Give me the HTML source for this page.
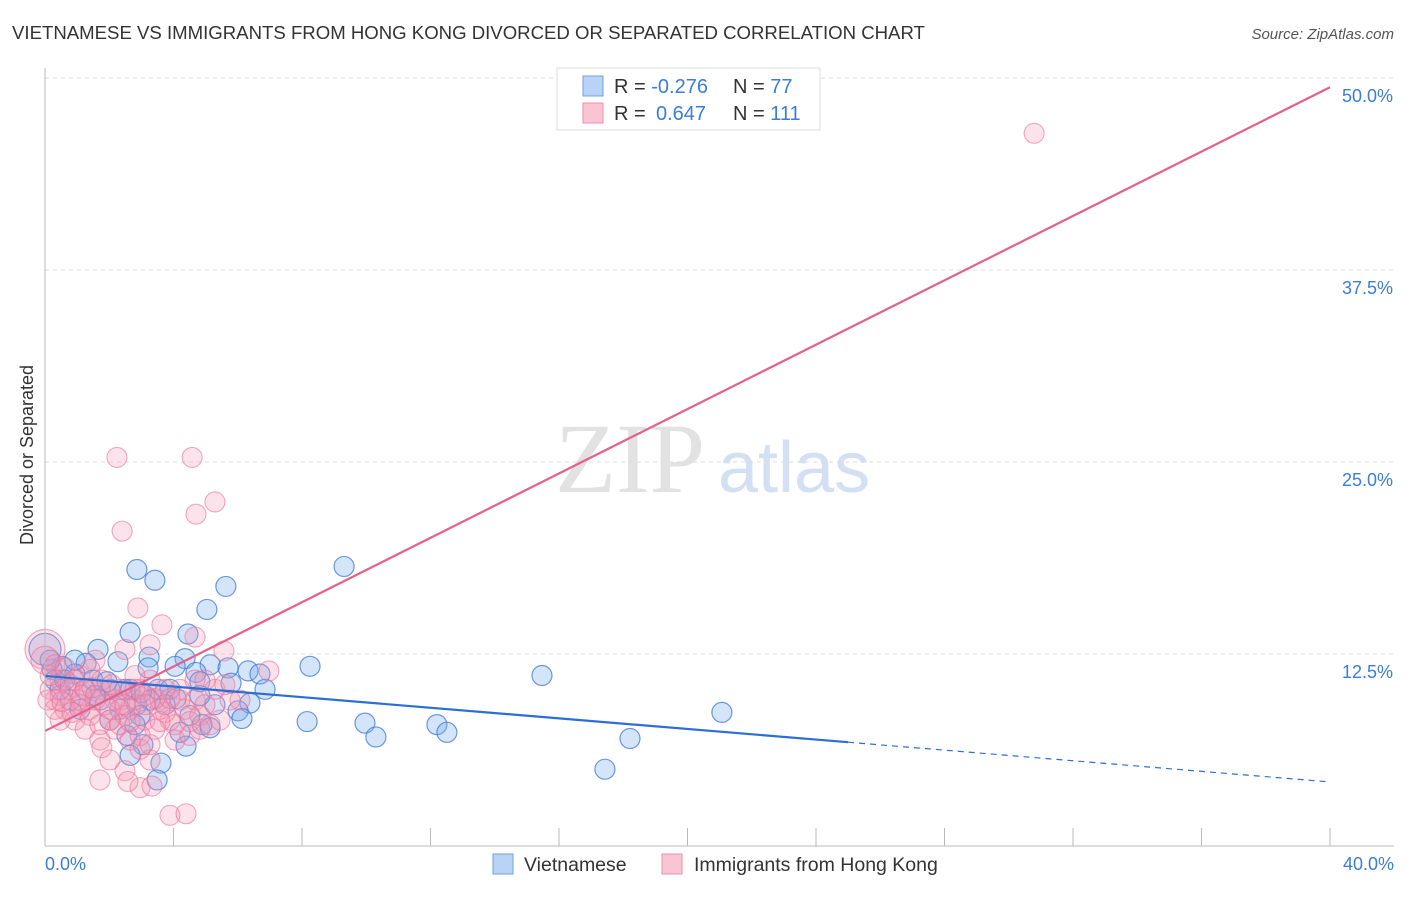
<!DOCTYPE html>
<html><head><meta charset="utf-8"><style>
body{margin:0;background:#fff;font-family:"Liberation Sans",sans-serif}
</style></head><body>
<svg width="1406" height="892" xmlns="http://www.w3.org/2000/svg" id="svg">
<text x="12" y="39" font-size="18.6" fill="#333">VIETNAMESE VS IMMIGRANTS FROM HONG KONG DIVORCED OR SEPARATED CORRELATION CHART</text>
<text x="1394" y="39" font-size="15" fill="#555" text-anchor="end" font-style="italic">Source: ZipAtlas.com</text>
<text x="33" y="455" font-size="18" fill="#333" text-anchor="middle" transform="rotate(-90 33 455)">Divorced or Separated</text>
<text x="555" y="492" font-size="100" fill="#e2e2e2" font-family="Liberation Serif,serif">ZIP</text>
<text x="718" y="492" font-size="72" fill="#d3e0f3">atlas</text>
<g id="grid"></g><g id="pts"></g><g id="lines"></g>
<line x1="45" y1="68" x2="45" y2="846" stroke="#bbb"/>
<line x1="45" y1="846" x2="1394" y2="846" stroke="#bbb"/>
<text x="45" y="870" font-size="18" fill="#3b7dd8">0.0%</text>
<text x="1394" y="870" font-size="18" fill="#3b7dd8" text-anchor="end">40.0%</text>
<g>
<rect x="557" y="68" width="263" height="62" fill="#fff" stroke="#ddd"/>
<rect x="583" y="76" width="20" height="20" fill="#b9d3f5" stroke="#6f9fe0"/>
<rect x="583" y="103" width="20" height="20" fill="#f9c5d5" stroke="#ec8fac"/>
<text x="614" y="93" font-size="20" fill="#333">R = <tspan fill="#3b7dd8">-0.276</tspan><tspan x="733">N = </tspan><tspan fill="#3b7dd8">77</tspan></text>
<text x="614" y="120" font-size="20" fill="#333">R = <tspan fill="#3b7dd8" x="656">0.647</tspan><tspan x="733">N = </tspan><tspan fill="#3b7dd8">111</tspan></text>
</g>
<g>
<rect x="493" y="854" width="20" height="20" fill="#b9d3f5" stroke="#6f9fe0"/>
<text x="524" y="871" font-size="19.5" fill="#333">Vietnamese</text>
<rect x="662" y="854" width="20" height="20" fill="#f9c5d5" stroke="#ec8fac"/>
<text x="694" y="871" font-size="19.5" fill="#333">Immigrants from Hong Kong</text>
</g>
</svg>
<script>
const yTicks=[12.5,25,37.5,50];
const yTickLabels=["12.5%","25.0%","37.5%","50.0%"];
const xTicks=[0,4,8,12,16,20,24,28,32,36,40];
const blueX=[2.86,3.42,5.63,9.31,5.04,2.65,4.45,1.65,1.28,2.27,3.24,4.36,5.14,5.70,6.32,6.69,8.25,15.47,3.21,4.05,4.70,5.79,6.85,4.82,2.02,2.65,3.52,3.89,0.53,0.93,1.49,1.93,0.22,5.29,6.38,6.01,6.13,4.08,2.86,2.55,3.05,2.65,3.61,4.39,4.20,4.89,5.14,8.16,9.96,10.30,12.20,12.51,18.21,21.07,17.43,3.49,2.49,3.27,0.78,1.25,1.71,0.31,0.47,2.33,2.96,3.74,4.51,1.09,0,0.16,0.62,1.56,2.02,4.82,2.80,0.93,3.0];
const blueY=[18.0,17.3,16.9,18.2,15.4,13.9,13.8,12.8,11.9,12.0,12.3,12.2,11.8,11.6,11.4,11.2,11.7,11.1,11.6,11.7,11.3,10.6,10.2,10.7,10.2,10.2,10.2,10.2,11.7,11.2,10.8,10.7,11.5,9.2,9.3,8.8,8.3,9.6,9.2,7.2,6.6,5.9,5.4,6.5,7.4,7.9,7.7,8.1,8.0,7.1,7.9,7.4,7.0,8.7,5.0,4.3,10.2,9.5,9.5,10.2,9.5,10.8,10.2,8.9,8.5,9.2,8.5,8.9,12.8,12.1,10.8,9.8,8.2,9.8,7.9,12.1,10.0];
const pinkX=[30.79,2.24,4.58,5.29,4.70,2.40,2.89,3.64,4.67,5.57,6.97,0,0,3.27,2.49,1.56,0.47,0.16,0.78,1.09,1.40,1.71,2.02,2.33,2.65,2.96,3.27,3.58,3.89,4.20,0.62,0.93,1.25,0.31,0.47,1.71,2.18,2.49,2.80,3.11,3.42,3.74,4.05,4.36,4.67,4.98,5.29,5.60,6.07,4.05,4.51,4.82,2.65,2.96,3.27,3.58,1.77,2.02,2.49,2.96,3.33,2.58,1.71,3.89,4.39,3.42,3.74,4.67,4.98,0.47,0.78,1.09,1.40,0.16,0.31,0.62,0.93,1.25,1.56,1.87,2.18,2.33,2.80,3.11,1.09,1.40,1.71,2.02,2.33,2.65,2.96,3.27,3.58,3.89,4.20,4.51,4.82,5.14,5.45,5.76,2.49,2.80,3.11,0.31,0.09,0.53,0.84,1.15,1.46,1.77,2.08];
const pinkY=[46.4,25.3,25.3,22.4,21.6,20.5,15.5,14.4,13.6,12.7,11.4,12.8,12.1,13.1,12.8,12.1,10.8,10.2,10.5,9.5,8.9,10.2,8.2,9.5,8.9,10.2,10.8,9.5,8.2,10.2,8.9,8.2,7.6,9.5,8.2,6.9,7.6,8.5,9.5,8.2,7.6,8.7,7.9,8.9,9.5,9.2,10.2,10.5,9.5,6.9,7.2,7.6,6.9,6.3,5.6,8.9,6.4,5.6,4.9,3.8,3.9,4.2,4.3,2.0,2.1,9.6,10.2,10.8,10.8,9.8,10.2,11.1,11.5,11.1,11.8,11.6,10.8,10.2,9.5,9.2,9.5,10.2,10.2,9.8,9.2,8.5,7.9,8.9,7.9,8.1,7.2,6.6,8.1,9.6,9.5,8.1,8.5,7.9,8.2,9.5,9.2,11.1,9.2,8.9,9.5,9.4,8.7,9.8,10.3,10.8,10.5];
const pinkFit=[7.49,49.4];
const blueFit=[11.07,4.17];
const blueSolidEnd=25;
const X=v=>45+v/40*1285, Y=v=>846-v/12.5*192;
const NS="http://www.w3.org/2000/svg";
function mk(tag,attrs,parent){const e=document.createElementNS(NS,tag);for(const k in attrs)e.setAttribute(k,attrs[k]);document.getElementById(parent).appendChild(e);return e;}
yTicks.forEach((t,i)=>{
 const l=mk('line',{x1:45,x2:1394,y1:Y(t),y2:Y(t),stroke:'#ddd','stroke-dasharray':'4,4'},'grid');
 
 
 const tx=mk('text',{x:1393,y:Y(t)+24,'font-size':18,fill:'#3b7dd8','text-anchor':'end'},'grid');tx.textContent=yTickLabels[i];
 
 
});
xTicks.forEach(t=>{
 const l=mk('line',{x1:X(t),x2:X(t),y1:828,y2:846,stroke:'#bbb'},'grid');
 
 
});
blueX.forEach((v,i)=>{
 const r=(v===0)?16:10;
 const c=mk('circle',{cx:X(v),cy:Y(blueY[i]),r:r,fill:'rgba(120,170,235,0.32)',stroke:'rgba(60,120,215,0.75)','stroke-width':1.2},'pts');
 
 
});
pinkX.forEach((v,i)=>{
 const r=(v===0)?(i===11?20:14):10;
 const c=mk('circle',{cx:X(v),cy:Y(pinkY[i]),r:r,fill:'rgba(245,150,180,0.28)',stroke:'rgba(235,110,150,0.6)','stroke-width':1.1},'pts');
 
 
});
const bAt=x=>blueFit[0]+(blueFit[1]-blueFit[0])*x/40;
let l1=mk('line',{x1:X(0),y1:Y(bAt(0)),x2:X(blueSolidEnd),y2:Y(bAt(blueSolidEnd)),stroke:'#2a6fd6','stroke-width':2.2},'lines');


let l2=mk('line',{x1:X(blueSolidEnd),y1:Y(bAt(blueSolidEnd)),x2:X(40),y2:Y(bAt(40)),stroke:'#2a6fd6','stroke-width':1.2,'stroke-dasharray':'6,5'},'lines');


let l3=mk('line',{x1:X(0),y1:Y(pinkFit[0]),x2:X(40),y2:Y(pinkFit[1]),stroke:'#e4618e','stroke-width':2.2},'lines');


</script>
</body></html>
